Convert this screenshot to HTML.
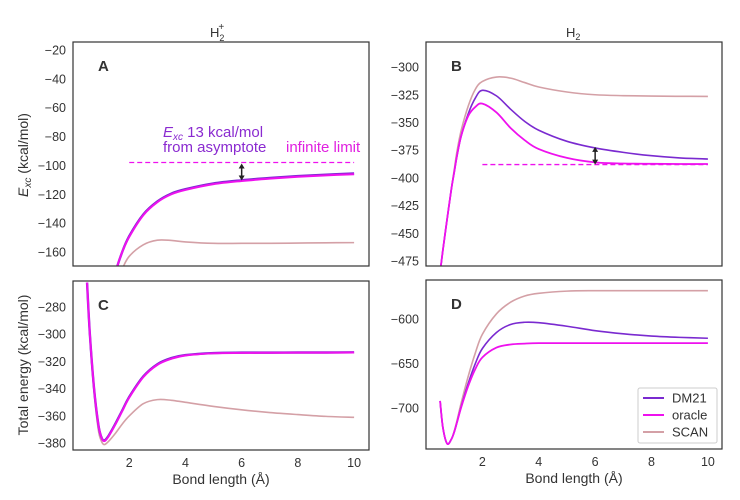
<!DOCTYPE html>
<html><head><meta charset="utf-8"><style>
body{margin:0;background:#fff;width:740px;height:495px;overflow:hidden}
svg{font-family:"Liberation Sans","DejaVu Sans",sans-serif}
</style></head><body>
<svg id="fig" width="740" height="495" viewBox="0 0 740 495" xmlns="http://www.w3.org/2000/svg"></svg>
<script>
// ---- data ----
const xs = [0.5,0.6,0.75,0.9,1,1.1,1.25,1.5,1.75,2,2.5,3,3.5,4,5,6,7,8,9,10];
const aDM21 = [-320,-300,-270,-245,-230,-215,-198,-175,-160,-149,-134,-125,-119.5,-116.5,-112.5,-110.3,-108.7,-107.4,-106.4,-105.6];
const aOracle = [-320,-300,-270,-245,-230,-215,-198,-175,-160,-149.5,-134.5,-125.5,-120,-117,-113,-110.8,-109.2,-107.9,-106.9,-106.1];
const aSCAN = [-330,-310,-280,-255,-240,-225,-208,-186,-172,-163,-155,-151.8,-152,-153,-154,-154,-154,-153.8,-153.6,-153.5];
const bDM21 = [-485,-465,-437,-410,-395,-380,-362,-342,-328,-321,-326,-338,-349,-357,-367,-373,-377,-380,-382,-383];
const bOracle = [-485,-465,-437,-410,-395,-380,-362,-344,-336,-333,-341,-355,-366,-374,-382,-386,-387,-387.3,-387.5,-387.5];
const bSCAN = [-485,-465,-437,-410,-393,-376,-357,-335,-320,-313,-309,-310,-314,-318,-322.5,-325,-325.8,-326.2,-326.4,-326.5];
const cDM21 = [-262,-300,-340,-366,-375,-378,-375,-366,-356,-346,-331,-322,-317.5,-315.3,-313.8,-313.5,-313.5,-313.4,-313.4,-313.3];
const cOracle = [-262,-300,-340,-366,-375,-378.5,-375.5,-366.5,-356.5,-346.5,-331.5,-322.5,-318,-315.6,-314,-313.7,-313.6,-313.5,-313.5,-313.4];
const cSCAN = [-262,-302,-343,-370,-378,-381,-379,-373,-366,-360,-351,-348,-348.5,-350,-353,-355.5,-357.5,-359,-360.3,-361];
const dDM21 = [-692,-722,-740,-735,-727,-716,-698,-672,-650,-633,-615,-606,-603.5,-604,-608,-613,-616.5,-619,-620.5,-621.5];
const dOracle = [-692,-722,-740,-735,-727,-716,-699,-675,-656,-643,-632,-628.5,-627.5,-627,-627,-627,-627,-627,-627,-627];
const dSCAN = [-692,-722,-740,-735,-726,-714,-694,-664,-638,-617,-594,-581,-574,-571,-568.5,-568,-568,-568,-568,-568];
const xTicks = [2,4,6,8,10];
const aTicks = [-20,-40,-60,-80,-100,-120,-140,-160];
const bTicks = [-300,-325,-350,-375,-400,-425,-450,-475];
const cTicks = [-280,-300,-320,-340,-360,-380];
const dTicks = [-600,-650,-700];
const aAsym = -98, bAsym = -388;

const C = {dm:'#7a2ad0', or:'#ee11ee', sc:'#d4a0a6'};
const NS='http://www.w3.org/2000/svg';
const svg=document.getElementById('fig');
function el(t,a,p){const e=document.createElementNS(NS,t);for(const k in a)e.setAttribute(k,a[k]);(p||svg).appendChild(e);return e;}

function panel(name,L,R,T,B,xmin,xmax,ymin,ymax,yt,showX,letter,series,extra){
  const g=el('g',{});
  
  
  const sx=v=>L+(v-xmin)/(xmax-xmin)*(R-L);
  const sy=v=>B-(v-ymin)/(ymax-ymin)*(B-T);
  const cid='clip'+name;
  const cp=el('clipPath',{id:cid},g);el('rect',{x:L,y:T,width:R-L,height:B-T},cp);
  yt.forEach(v=>{const t=el('text',{x:L-7,y:sy(v)+4.5,'text-anchor':'end','font-size':12.5,fill:'#333'},g);t.textContent=String(v).replace('-','\u2212');
    });
  if(showX){xTicks.forEach(v=>{const t=el('text',{x:sx(v),y:B+17,'text-anchor':'middle','font-size':12.5,fill:'#333'},g);t.textContent=v;
    });
    const xl=el('text',{x:(L+R)/2,y:B+34,'text-anchor':'middle','font-size':14,fill:'#333'},g);xl.textContent='Bond length (Å)';
    }
  const pg=el('g',{'clip-path':'url(#'+cid+')'},g);
  series.forEach(s=>{
    let d='';const P=xs.map((x,i)=>[sx(x),sy(s.v[i])]);
    d='M'+P[0][0]+','+P[0][1];
    for(let i=0;i<P.length-1;i++){const p0=P[Math.max(0,i-1)],p1=P[i],p2=P[i+1],p3=P[Math.min(P.length-1,i+2)];
      d+=` C${p1[0]+(p2[0]-p0[0])/6},${p1[1]+(p2[1]-p0[1])/6} ${p2[0]-(p3[0]-p1[0])/6},${p2[1]-(p3[1]-p1[1])/6} ${p2[0]},${p2[1]}`;}
    const pa=el('path',{d:d,fill:'none',stroke:s.c,'stroke-width':s.w},pg);
    
    
  });
  if(extra)extra(pg,sx,sy);
  const fr=el('rect',{x:L,y:T,width:R-L,height:B-T,fill:'none',stroke:'#333','stroke-width':1.2},g);
  
  const lt=el('text',{x:L+25,y:T+29,'font-size':15,'font-weight':'bold',fill:'#333'},g);lt.textContent=letter;
  
  return {sx,sy};
}
function arrow(pg,x,y1,y2){
  el('line',{x1:x,y1:y1+4,x2:x,y2:y2-4,stroke:'#222','stroke-width':1.5},pg);
  el('path',{d:`M${x-3},${y1+5} L${x},${y1} L${x+3},${y1+5}Z M${x-3},${y2-5} L${x},${y2} L${x+3},${y2-5}Z`,fill:'#222'},pg);
}
panel('a',73,369,42,266,0,10.53,-169.7,-14.5,aTicks,false,'A',
 [{n:'scan',v:aSCAN,c:C.sc,w:1.6},{n:'dm21',v:aDM21,c:C.dm,w:2.4},{n:'oracle',v:aOracle,c:C.or,w:2}],
 (pg,sx,sy)=>{const l=el('line',{x1:sx(2),x2:sx(10),y1:sy(aAsym),y2:sy(aAsym),stroke:C.or,'stroke-width':1.3,'stroke-dasharray':'5,3'},pg);
  
  arrow(pg,sx(6),sy(aAsym)+1,sy(-110.5));});
panel('b',426,722,42,266,0,10.5,-479.5,-277.4,bTicks,false,'B',
 [{n:'scan',v:bSCAN,c:C.sc,w:1.6},{n:'dm21',v:bDM21,c:C.dm,w:1.6},{n:'oracle',v:bOracle,c:C.or,w:1.8}],
 (pg,sx,sy)=>{const l=el('line',{x1:sx(2),x2:sx(10),y1:sy(bAsym),y2:sy(bAsym),stroke:C.or,'stroke-width':1.3,'stroke-dasharray':'5,3'},pg);
  
  arrow(pg,sx(6),sy(-372),sy(bAsym));});
panel('c',73,369,281,450,0,10.53,-385,-260.9,cTicks,true,'C',
 [{n:'scan',v:cSCAN,c:C.sc,w:1.6},{n:'dm21',v:cDM21,c:C.dm,w:2.4},{n:'oracle',v:cOracle,c:C.or,w:2}]);
panel('d',426,722,280,449,0,10.5,-746,-556,dTicks,true,'D',
 [{n:'scan',v:dSCAN,c:C.sc,w:1.6},{n:'dm21',v:dDM21,c:C.dm,w:1.6},{n:'oracle',v:dOracle,c:C.or,w:1.8}]);
</script>
<svg style="position:absolute;left:0;top:0" width="740" height="495">
<text x="210" y="37" font-size="13" fill="#333" font-family="Liberation Sans,sans-serif">H<tspan font-size="9" dy="4">2</tspan><tspan font-size="10" dx="-6" dy="-11">+</tspan></text>
<text x="566" y="37" font-size="13" fill="#333" font-family="Liberation Sans,sans-serif">H<tspan font-size="9" dy="3">2</tspan></text>
<text transform="translate(28,155) rotate(-90)" text-anchor="middle" font-size="14" fill="#333" font-family="Liberation Sans,sans-serif"><tspan font-style="italic">E</tspan><tspan font-style="italic" font-size="10" dy="3">xc</tspan><tspan dy="-3"> (kcal/mol)</tspan></text>
<text transform="translate(28,365) rotate(-90)" text-anchor="middle" font-size="14" fill="#333" font-family="Liberation Sans,sans-serif">Total energy (kcal/mol)</text>
<text x="163" y="137" font-size="15" fill="#8a2ad0" font-family="Liberation Sans,sans-serif"><tspan font-style="italic">E</tspan><tspan font-style="italic" font-size="10" dy="3">xc</tspan><tspan dy="-3"> 13 kcal/mol</tspan></text>
<text x="163" y="152" font-size="15" fill="#8a2ad0" font-family="Liberation Sans,sans-serif">from asymptote</text>
<text x="286" y="152" font-size="15" fill="#e020e0" font-family="Liberation Sans,sans-serif">infinite limit</text>
<g font-family="Liberation Sans,sans-serif" font-size="13" fill="#333">
<rect x="638" y="388" width="79" height="55" fill="#fff" stroke="#ccc" rx="2"/>
<line x1="643" x2="664" y1="398" y2="398" stroke="#7a2ad0" stroke-width="2"/><text x="672" y="402.5">DM21</text>
<line x1="643" x2="664" y1="415" y2="415" stroke="#ee11ee" stroke-width="2"/><text x="672" y="419.5">oracle</text>
<line x1="643" x2="664" y1="432" y2="432" stroke="#d4a0a6" stroke-width="2"/><text x="672" y="436.5">SCAN</text>
</g>
</svg>
</body></html>
